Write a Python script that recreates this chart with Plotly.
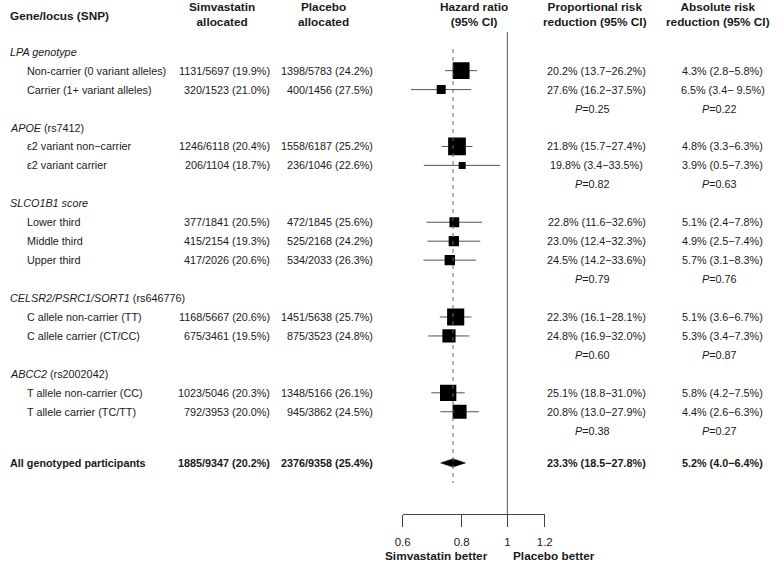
import math
import plotly.graph_objects as go

# ---------------- data ----------------
groups = ["LPA genotype", "APOE", "SLCO1B1 score", "CELSR2/PSRC1/SORT1", "ABCC2"]
group_snp = ["", "rs7412", "", "rs646776", "rs2002042"]
subgroups = [
    ["Non-carrier (0 variant alleles)", "Carrier (1+ variant alleles)"],
    ["\u03b52 variant non\u2212carrier", "\u03b52 variant carrier"],
    ["Lower third", "Middle third", "Upper third"],
    ["C allele non-carrier (TT)", "C allele carrier (CT/CC)"],
    ["T allele non-carrier (CC)", "T allele carrier (TC/TT)"],
]
simv_events = [1131, 320, 1246, 206, 377, 415, 417, 1168, 675, 1023, 792]
simv_n = [5697, 1523, 6118, 1104, 1841, 2154, 2026, 5667, 3461, 5046, 3953]
simv_pct = [19.9, 21.0, 20.4, 18.7, 20.5, 19.3, 20.6, 20.6, 19.5, 20.3, 20.0]
plac_events = [1398, 400, 1558, 236, 472, 525, 534, 1451, 875, 1348, 945]
plac_n = [5783, 1456, 6187, 1046, 1845, 2168, 2033, 5638, 3523, 5166, 3862]
plac_pct = [24.2, 27.5, 25.2, 22.6, 25.6, 24.2, 26.3, 25.7, 24.8, 26.1, 24.5]
rrr = [20.2, 27.6, 21.8, 19.8, 22.8, 23.0, 24.5, 22.3, 24.8, 25.1, 20.8]
rrr_lo = [13.7, 16.2, 15.7, 3.4, 11.6, 12.4, 14.2, 16.1, 16.9, 18.8, 13.0]
rrr_hi = [26.2, 37.5, 27.4, 33.5, 32.6, 32.3, 33.6, 28.1, 32.0, 31.0, 27.9]
arr = [4.3, 6.5, 4.8, 3.9, 5.1, 4.9, 5.7, 5.1, 5.3, 5.8, 4.4]
arr_lo = [2.8, 3.4, 3.3, 0.5, 2.4, 2.5, 3.1, 3.6, 3.4, 4.2, 2.6]
arr_hi = [5.8, 9.5, 6.3, 7.3, 7.8, 7.4, 8.3, 6.7, 7.3, 7.5, 6.3]
p_rrr = ["0.25", "0.82", "0.79", "0.60", "0.38"]
p_arr = ["0.22", "0.63", "0.76", "0.87", "0.27"]

all_label = "All genotyped participants"
all_simv = (1885, 9347, 20.2)
all_plac = (2376, 9358, 25.4)
all_rrr = (23.3, 18.5, 27.8)
all_arr = (5.2, 4.0, 6.4)

x_ticks = [0.6, 0.8, 1, 1.2]
x_tick_labels = ["0.6", "0.8", "1", "1.2"]

# ---------------- layout helpers ----------------
W, H = 778, 563
ROW0_PX, ROW_PX = 51.7, 18.95
AXIS_PX = 514
FONT = "Liberation Sans, Arial, Helvetica, sans-serif"
TXT = "#1a1a1a"
FS = 10.8
FS_HEAD = 11.8


def row_of(px):
    return (px - ROW0_PX) / ROW_PX


def px_x(px):
    return px / W


def px_y(px):
    return 1 - px / H


annotations = []


def add_text(text, xpx, row, anchor="left", bold=False, yref="y", size=FS):
    if bold:
        text = "<b>" + text + "</b>"
    annotations.append(dict(
        text=text, x=px_x(xpx), y=row, xref="paper", yref=yref,
        xanchor=anchor, yanchor="middle", showarrow=False,
        borderpad=0, borderwidth=0,
        font=dict(family=FONT, size=size, color=TXT),
    ))


def ci_text(v, lo, hi, pad_hi=False):
    hi_s = f"{hi:4.1f}" if pad_hi else f"{hi:.1f}"
    return f"{v:.1f}% ({lo:.1f}\u2212{hi_s}%)"


# ---------------- rows ----------------
sq_x, sq_y, sq_size = [], [], []
ci_x, ci_y = [], []
r = 0
k = 0
for g, grp in enumerate(groups):
    title = f"<i>{grp}</i>" + (f" ({group_snp[g]})" if group_snp[g] else "")
    add_text(title, 2, r)
    for s, lab in enumerate(subgroups[g]):
        rr = r + 1 + s
        add_text(lab, 19, rr)
        add_text(f"{simv_events[k]}/{simv_n[k]} ({simv_pct[k]:.1f}%)", 268, rr, "right")
        add_text(f"{plac_events[k]}/{plac_n[k]} ({plac_pct[k]:.1f}%)", 372.5, rr, "right")
        add_text(ci_text(rrr[k], rrr_lo[k], rrr_hi[k]), 601, rr, "center")
        add_text(ci_text(arr[k], arr_lo[k], arr_hi[k], pad_hi=(arr_hi[k] >= 9)),
                 730, rr, "center")
        hr = 1 - rrr[k] / 100
        lo = 1 - rrr_hi[k] / 100
        hi = 1 - rrr_lo[k] / 100
        sq_x.append(hr)
        sq_y.append(rr)
        sq_size.append(0.335 * math.sqrt(simv_events[k] + plac_events[k]))
        ci_x += [lo, hi, None]
        ci_y += [rr, rr, None]
        k += 1
    pr = r + len(subgroups[g]) + 1
    add_text(f"<i>P</i>={p_rrr[g]}", 597, pr, "center")
    add_text(f"<i>P</i>={p_arr[g]}", 726, pr, "center")
    r = pr + 1

all_row = r + 0.7
add_text(all_label, 2, all_row, bold=True)
add_text(f"{all_simv[0]}/{all_simv[1]} ({all_simv[2]:.1f}%)", 268, all_row, "right", bold=True)
add_text(f"{all_plac[0]}/{all_plac[1]} ({all_plac[2]:.1f}%)", 372.5, all_row, "right", bold=True)
add_text(ci_text(*all_rrr), 601, all_row, "center", bold=True)
add_text(ci_text(*all_arr), 730, all_row, "center", bold=True)

overall_hr = 1 - all_rrr[0] / 100
overall_lo = 1 - all_rrr[2] / 100
overall_hi = 1 - all_rrr[1] / 100

# headers
for text, xpx, anchor, ypx in [
    ("Gene/locus (SNP)", 2, "left", 16),
    ("Simvastatin<br>allocated", 218, "center", 14.5),
    ("Placebo<br>allocated", 322, "center", 14.5),
    ("Hazard ratio<br>(95% CI)", 476, "center", 14.5),
    ("Proportional risk<br>reduction (95% CI)", 599, "center", 14.5),
    ("Absolute risk<br>reduction (95% CI)", 725, "center", 14.5),
]:
    add_text(text, xpx, px_y(ypx), anchor, bold=True, yref="paper", size=FS_HEAD)

add_text("Simvastatin better", 437, px_y(556), "center", bold=True, yref="paper", size=FS_HEAD)
add_text("Placebo better", 557, px_y(556), "center", bold=True, yref="paper", size=FS_HEAD)

# ---------------- figure ----------------
fig = go.Figure()
fig.add_trace(go.Scatter(
    x=ci_x, y=ci_y, mode="lines", line=dict(color="#555555", width=1),
    hoverinfo="skip", showlegend=False,
))
fig.add_trace(go.Scatter(
    x=sq_x, y=sq_y, mode="markers",
    marker=dict(symbol="square", size=sq_size, color="#000000", opacity=1,
                line=dict(width=0)),
    showlegend=False,
))
dh = 0.22
fig.add_trace(go.Scatter(
    x=[overall_lo, overall_hr, overall_hi, overall_hr, overall_lo],
    y=[all_row, all_row - dh, all_row, all_row + dh, all_row],
    mode="lines", fill="toself", fillcolor="#000000", line=dict(color="#000000", width=0.5),
    showlegend=False,
))

y_top = row_of(0)
y_bot = row_of(AXIS_PX)

shapes = [
    dict(type="line", xref="x", yref="y", x0=1, x1=1, y0=row_of(32), y1=y_bot,
         line=dict(color="#555555", width=1)),
    dict(type="line", xref="x", yref="y", x0=overall_hr, x1=overall_hr,
         y0=row_of(49), y1=row_of(483), line=dict(color="#666666", width=1, dash="4px,4px")),
]

fig.update_layout(
    width=W, height=H,
    margin=dict(l=0, r=0, t=0, b=0),
    paper_bgcolor="white", plot_bgcolor="white",
    annotations=annotations, shapes=shapes,
    xaxis=dict(
        type="log", domain=[403 / W, 548 / W],
        range=[math.log10(x_ticks[0]), math.log10(x_ticks[-1])],
        tickmode="array", tickvals=x_ticks, ticktext=x_tick_labels,
        ticks="outside", ticklen=12, tickcolor="#444444", tickwidth=1,
        ticklabelstandoff=5,
        showline=True, linecolor="#444444", linewidth=1,
        showgrid=False, zeroline=False,
        tickfont=dict(family=FONT, size=11.5, color=TXT),
    ),
    yaxis=dict(
        domain=[1 - AXIS_PX / H, 1], range=[y_bot, y_top],
        visible=False, showgrid=False, zeroline=False,
    ),
)

fig.write_html(
    "out.html",
    config={"displayModeBar": False},
    post_script="document.body.style.margin='0px';document.body.style.overflow='hidden';",
)
